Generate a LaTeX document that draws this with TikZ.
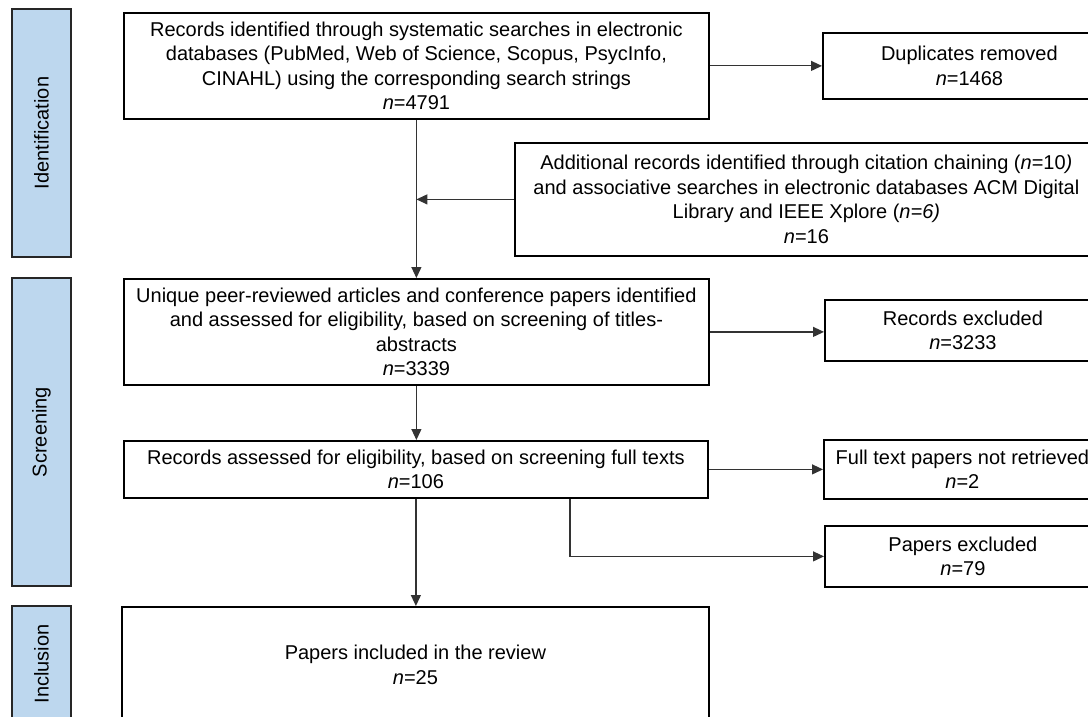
\documentclass[tikz,border=0pt]{standalone}
\usepackage{fontspec}
\setmainfont{Liberation Sans}
\usetikzlibrary{arrows.meta}
\definecolor{barblue}{RGB}{189,215,238}
\tikzset{
  txt/.style={font=\fontsize{20}{24.4}\selectfont},
  box/.style={draw=black, line width=1.8pt, fill=white, inner sep=0pt, align=center, txt, anchor=north west},
  bar/.style={draw=black!85, line width=2.2pt, fill=barblue},
  conn/.style={line width=1.2pt, draw=black!80, -{Triangle[length=11pt,width=10pt]}}
}
\begin{document}
\begin{tikzpicture}[x=1pt,y=-1pt]
\useasboundingbox (0,0) rectangle (1088,717);
\clip (0,0) rectangle (1088,717);
% phase bars
\draw[bar] (12,9) rectangle (71,257);
\node[txt, rotate=90] (idl) at (41.5,133) {Identification};
\draw[bar] (12,278) rectangle (71,586);
\node[txt, rotate=90] (scl) at (41.5,432) {Screening};
\draw[bar] (12,606) rectangle (71,722);
\node[txt, rotate=90] (inl) at (41.5,664) {Inclusion};
% boxes
\node[box, minimum width=585pt, minimum height=106pt] (b1) at (123,12)
  {Records identified through systematic searches in electronic\\databases (PubMed, Web of Science, Scopus, PsycInfo,\\CINAHL) using the corresponding search strings\\\textit{n}=4791};
\node[box, minimum width=293pt, minimum height=66pt] (dup) at (822,32)
  {Duplicates removed\\\textit{n}=1468};
\node[box, minimum width=583pt, minimum height=113pt] (add) at (514,142)
  {Additional records identified through citation chaining (\textit{n}=10\textit{)}\\and associative searches in electronic databases ACM Digital\\Library and IEEE Xplore (\textit{n=6)}\\\textit{n}=16};
\node[box, minimum width=585pt, minimum height=106pt] (b3) at (123,278)
  {Unique peer-reviewed articles and conference papers identified\\and assessed for eligibility, based on screening of titles-\\abstracts\\\textit{n}=3339};
\node[box, minimum width=276pt, minimum height=61pt] (rex) at (824,299)
  {Records excluded\\\textit{n}=3233};
\node[box, minimum width=584pt, minimum height=57pt] (b4) at (123,440)
  {Records assessed for eligibility, based on screening full texts\\\textit{n}=106};
\node[box, minimum width=277pt, minimum height=59pt] (ftx) at (823,439)
  {Full text papers not retrieved\\\textit{n}=2};
\node[box, minimum width=276pt, minimum height=61pt] (pex) at (824,525)
  {Papers excluded\\\textit{n}=79};
\node[box, minimum width=587pt, minimum height=116pt] (b5) at (121,606)
  {Papers included in the review\\\textit{n}=25};
% connectors
\coordinate (k) at (570,0);
\draw[conn] (b1.south) -- (b1.south |- b3.north);
\draw[conn] (b1.east) -- (b1.east -| dup.west);
\draw[conn] (add.west) -- (add.west -| b1.south);
\draw[conn] (b3.east) -- (b3.east -| rex.west);
\draw[conn] (b3.south) -- (b3.south |- b4.north);
\draw[conn] (b4.east) -- (b4.east -| ftx.west);
\draw[conn] (b4.south) -- (b4.south |- b5.north);
\draw[conn] (b4.south -| k) |- (pex.west);
\end{tikzpicture}
\end{document}
